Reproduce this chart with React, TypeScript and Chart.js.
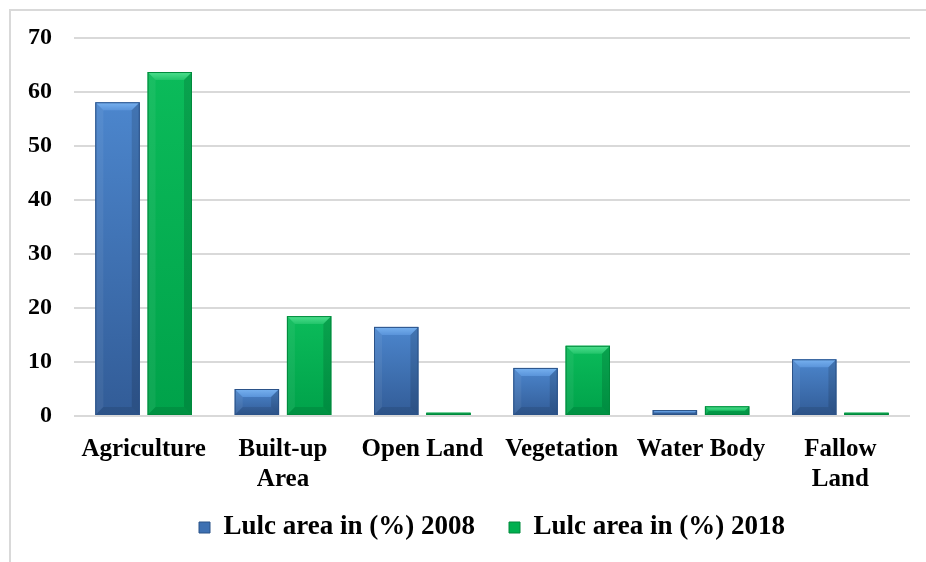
import React, { useEffect, useRef } from "react";
import { Chart, registerables } from "chart.js";

Chart.register(...registerables);

const categories: (string | string[])[] = [
  "Agriculture",
  ["Built-up", "Area"],
  "Open Land",
  "Vegetation",
  "Water Body",
  ["Fallow", "Land"],
];
const lulc2008 = [58.1, 5.0, 16.5, 8.9, 1.1, 10.5];
const lulc2018 = [63.7, 18.5, 0.6, 13.0, 1.8, 0.6];
const seriesNames = ["Lulc area in (%) 2008", "Lulc area in (%) 2018"];
const yMin = 0;
const yMax = 70;
const yStep = 10;

const FONT = "'Liberation Serif', 'Times New Roman', serif";
const LEGEND_SHIFT = 24;

const palettes = [
  { top: "#4c86cd", bottom: "#325c97", bevel1: "#78b2f0", bevel2: "#5a94da", edge: "#2b5288", solid: "#3d70b2" },
  { top: "#0bbb5a", bottom: "#00a24a", bevel1: "#4fe08f", bevel2: "#22c46a", edge: "#008a3c", solid: "#00b050" },
];

const bevelPlugin = {
  id: "bevelBars",
  afterDatasetsDraw(chart: any) {
    const ctx = chart.ctx as CanvasRenderingContext2D;
    chart.data.datasets.forEach((_: any, di: number) => {
      const meta = chart.getDatasetMeta(di);
      const p = palettes[di];
      meta.data.forEach((bar: any) => {
        const { x, y, base, width } = bar.getProps(["x", "y", "base", "width"], true);
        const l = x - width / 2;
        const r = x + width / 2;
        const t = Math.min(y, base);
        const b = Math.max(y, base);
        const h = b - t;
        if (h <= 0) return;
        const bv = Math.min(8, width / 4, h / 2);
        ctx.save();
        const g = ctx.createLinearGradient(0, t, 0, b);
        g.addColorStop(0, p.top);
        g.addColorStop(1, p.bottom);
        ctx.fillStyle = g;
        ctx.fillRect(l, t, width, h);
        const gb = ctx.createLinearGradient(0, t, 0, t + bv);
        gb.addColorStop(0, p.bevel1);
        gb.addColorStop(1, p.bevel2);
        ctx.fillStyle = gb;
        ctx.beginPath();
        ctx.moveTo(l, t);
        ctx.lineTo(r, t);
        ctx.lineTo(r - bv, t + bv);
        ctx.lineTo(l + bv, t + bv);
        ctx.closePath();
        ctx.fill();
        ctx.fillStyle = "rgba(255,255,255,0.06)";
        ctx.beginPath();
        ctx.moveTo(l, t);
        ctx.lineTo(l + bv, t + bv);
        ctx.lineTo(l + bv, b - bv);
        ctx.lineTo(l, b);
        ctx.closePath();
        ctx.fill();
        ctx.fillStyle = "rgba(0,0,0,0.13)";
        ctx.beginPath();
        ctx.moveTo(r, t);
        ctx.lineTo(r - bv, t + bv);
        ctx.lineTo(r - bv, b - bv);
        ctx.lineTo(r, b);
        ctx.closePath();
        ctx.fill();
        ctx.fillStyle = "rgba(0,0,0,0.1)";
        ctx.beginPath();
        ctx.moveTo(l, b);
        ctx.lineTo(l + bv, b - bv);
        ctx.lineTo(r - bv, b - bv);
        ctx.lineTo(r, b);
        ctx.closePath();
        ctx.fill();
        ctx.strokeStyle = p.edge;
        ctx.lineWidth = 1;
        ctx.strokeRect(l + 0.5, t + 0.5, width - 1, h - 1);
        ctx.restore();
      });
    });
  },
};

const legendShiftPlugin = {
  id: "legendShift",
  beforeLayout(chart: any) {
    const lg = chart.legend;
    if (lg && !lg.__patched) {
      const origFit = lg.fit;
      lg.fit = function () {
        origFit.call(this);
        this.height -= LEGEND_SHIFT;
      };
      lg.__patched = true;
    }
  },
  afterLayout(chart: any) {
    const lg = chart.legend;
    if (lg) {
      lg.top -= LEGEND_SHIFT;
      lg.height += LEGEND_SHIFT;
    }
  },
};

export default function App() {
  const canvasRef = useRef<HTMLCanvasElement | null>(null);

  useEffect(() => {
    if (!canvasRef.current) return;
    const chart = new Chart(canvasRef.current, {
      type: "bar",
      data: {
        labels: categories,
        datasets: [
          {
            label: seriesNames[0],
            data: lulc2008,
            backgroundColor: palettes[0].solid,
            borderColor: palettes[0].edge,
            borderWidth: 1,
            categoryPercentage: 0.75,
            barPercentage: 0.85,
          },
          {
            label: seriesNames[1],
            data: lulc2018,
            backgroundColor: palettes[1].solid,
            borderColor: palettes[1].edge,
            borderWidth: 1,
            categoryPercentage: 0.75,
            barPercentage: 0.85,
          },
        ],
      },
      options: {
        animation: false,
        responsive: false,
        maintainAspectRatio: false,
        layout: { padding: { top: 38, left: 0, right: 16, bottom: 11 } },
        plugins: {
          legend: {
            position: "bottom",
            fullSize: false,
            labels: {
              color: "#000",
              font: { family: FONT, size: 27, weight: "bold" },
              boxWidth: 11,
              boxHeight: 11,
              padding: 34,
            },
          },
          tooltip: { enabled: false },
        },
        scales: {
          x: {
            grid: { display: false, drawTicks: false },
            border: { display: false },
            ticks: {
              color: "#000",
              font: { family: FONT, size: 25, weight: "bold" },
              padding: 19,
              maxRotation: 0,
              autoSkip: false,
            },
            afterFit: (s: any) => {
              s.height = 88;
            },
          },
          y: {
            min: yMin,
            max: yMax,
            grid: { color: "#d9d9d9", lineWidth: 2, drawTicks: false },
            border: { display: false },
            ticks: {
              stepSize: yStep,
              color: "#000",
              font: { family: FONT, size: 24, weight: "bold" },
              padding: 22,
            },
            afterFit: (s: any) => {
              s.width = 74;
            },
          },
        },
      },
      plugins: [bevelPlugin, legendShiftPlugin],
    });
    return () => chart.destroy();
  }, []);

  return (
    <div style={{ position: "fixed", left: 0, top: 0, width: 926, height: 562, background: "#fff", overflow: "hidden" }}>
      <div
        style={{
          position: "absolute",
          left: 9,
          top: 9,
          width: 940,
          height: 570,
          borderLeft: "2px solid #d9d9d9",
          borderTop: "2px solid #d9d9d9",
        }}
      />
      <canvas ref={canvasRef} width={926} height={562} style={{ position: "absolute", left: 0, top: 0 }} />
    </div>
  );
}
